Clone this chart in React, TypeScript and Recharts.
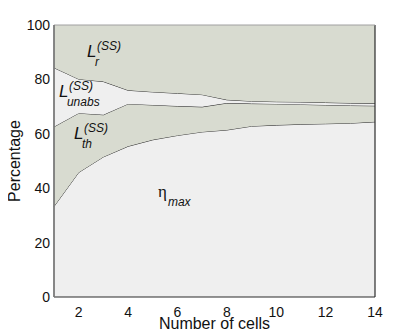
import React from 'react';
import { AreaChart, Area, XAxis, YAxis, ReferenceDot, ReferenceLine } from 'recharts';

// boundaries (percent, cumulative from the bottom)
const cells = [1, 2, 3, 4, 5, 6, 7, 8, 9, 10, 11, 12, 13, 14];
const etaMax = [33.3, 45.8, 51.5, 55.4, 57.8, 59.4, 60.7, 61.4, 62.8, 63.2, 63.5, 63.7, 63.9, 64.4];
const thermTop = [62.6, 67.6, 67.0, 71.0, 70.6, 70.2, 69.9, 71.3, 71.1, 71.0, 70.8, 70.6, 70.4, 70.3];
const unabsTop = [84.3, 80.1, 79.2, 76.0, 75.4, 74.9, 74.4, 72.5, 72.0, 71.8, 71.7, 71.5, 71.3, 71.2];
const xTicks = [2, 4, 6, 8, 10, 12, 14];
const yTicks = [0, 20, 40, 60, 80, 100];

const data = cells.map((n, i) => ({
  cells: n,
  eta: etaMax[i],
  lth: thermTop[i] - etaMax[i],
  lunabs: unabsTop[i] - thermTop[i],
  lr: 100 - unabsTop[i],
}));

const LIGHT = '#efefef';
const DARK = '#d8dbd0';
const LINE = '#2b2b2b';
const FONT = '"Liberation Sans", Arial, Helvetica, sans-serif';

// L with superscript (SS) and a subscript, anchored at the baseline of the L
const lossLabel = (sub: string) => (props: any) => {
  const vb = props.viewBox || {};
  const x = (vb.x ?? 0) + (vb.width ?? 0) / 2;
  const y = (vb.y ?? 0) + (vb.height ?? 0) / 2;
  return (
    <g fontFamily={FONT} fontStyle="italic" fill="#111">
      <text x={x} y={y} fontSize={17}>L</text>
      <text x={x + 10} y={y - 7} fontSize={12}>(SS)</text>
      <text x={x + 8} y={y + 9} fontSize={12}>{sub}</text>
    </g>
  );
};

const etaLabel = (props: any) => {
  const vb = props.viewBox || {};
  const x = (vb.x ?? 0) + (vb.width ?? 0) / 2;
  const y = (vb.y ?? 0) + (vb.height ?? 0) / 2;
  return (
    <g fill="#111">
      <text x={x} y={y} fontSize={17} fontFamily='"Liberation Serif", serif'>η</text>
      <text x={x + 10} y={y + 9} fontSize={12} fontStyle="italic" fontFamily={FONT}>max</text>
    </g>
  );
};

const yLabel = (props: any) => {
  const vb = props.viewBox || {};
  const x = (vb.x ?? 0) + 12;
  const y = (vb.y ?? 0) + (vb.height ?? 0) / 2;
  return (
    <text x={x} y={y} transform={`rotate(-90 ${x} ${y})`} textAnchor="middle"
      fontSize={16} fontFamily={FONT} fill="#111">
      Percentage
    </text>
  );
};

const xLabel = (props: any) => {
  const vb = props.viewBox || {};
  const x = (vb.x ?? 0) + (vb.width ?? 0) / 2;
  return (
    <text x={x} y={321} textAnchor="middle" fontSize={16} fontFamily={FONT} fill="#111">
      Number of cells
    </text>
  );
};

export default function App() {
  return (
    <AreaChart width={407} height={328} data={data}
      margin={{ top: 17, right: 40, bottom: 3, left: 0 }}>
      <XAxis dataKey="cells" type="number" domain={[1, 14]} ticks={xTicks}
        tickLine={false} tickSize={0} tickMargin={10} height={36}
        axisLine={{ stroke: LINE, strokeWidth: 1.2 }}
        tick={{ fontSize: 14, fontFamily: FONT, fill: '#111' }}
        label={{ content: xLabel }} />
      <YAxis type="number" domain={[0, 100]} ticks={yTicks} width={46}
        tickLine={false} tickSize={0} tickMargin={4}
        axisLine={{ stroke: '#7a7a7a', strokeWidth: 1.8 }}
        tick={{ fontSize: 14, fontFamily: FONT, fill: '#111' }}
        label={{ content: yLabel }} />

      <Area type="linear" dataKey="eta" stackId="s" fill={LIGHT} fillOpacity={1}
        stroke={LINE} strokeWidth={1} isAnimationActive={false} />
      <Area type="linear" dataKey="lth" stackId="s" fill={DARK} fillOpacity={1}
        stroke={LINE} strokeWidth={1} isAnimationActive={false} />
      <Area type="linear" dataKey="lunabs" stackId="s" fill={LIGHT} fillOpacity={1}
        stroke={LINE} strokeWidth={1} isAnimationActive={false} />
      <Area type="linear" dataKey="lr" stackId="s" fill={DARK} fillOpacity={1}
        stroke="none" isAnimationActive={false} />

      {/* frame on the top and right */}
      <ReferenceLine x={14} stroke={LINE} strokeWidth={1.2} />
      <ReferenceLine y={100} stroke="#a0a0a0" strokeWidth={1} />

      <ReferenceDot x={2.34} y={88.2} r={0} fill="none" stroke="none" label={{ content: lossLabel('r') }} />
      <ReferenceDot x={1.2} y={73.5} r={0} fill="none" stroke="none" label={{ content: lossLabel('unabs') }} />
      <ReferenceDot x={1.81} y={58.1} r={0} fill="none" stroke="none" label={{ content: lossLabel('th') }} />
      <ReferenceDot x={5.21} y={36.8} r={0} fill="none" stroke="none" label={{ content: etaLabel }} />
    </AreaChart>
  );
}
